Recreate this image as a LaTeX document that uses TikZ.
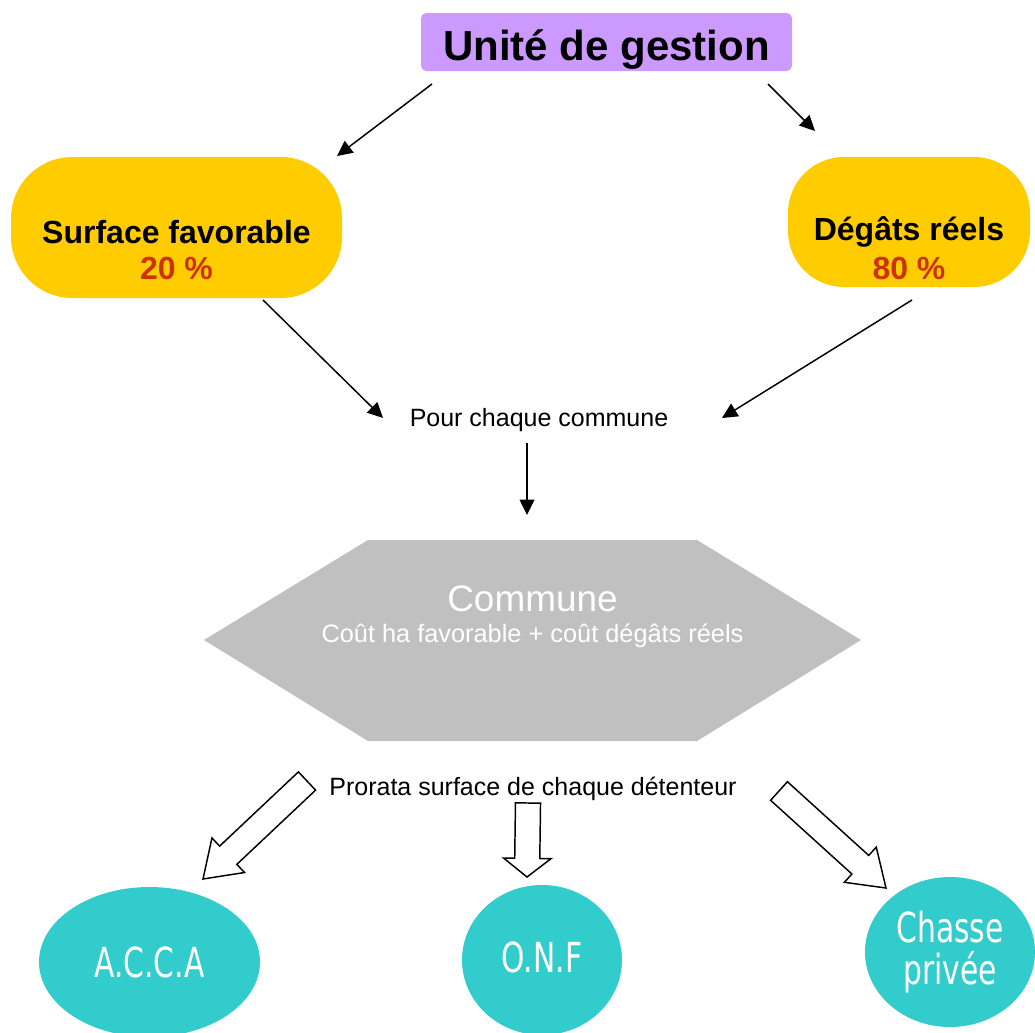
\documentclass[tikz,border=0pt]{standalone}
\usepackage{fontspec}
\setmainfont{Liberation Sans}
\newfontfamily\ovalfont[FakeStretch=0.72]{DejaVu Sans}
\usetikzlibrary{arrows.meta,calc,shapes.geometric}

\definecolor{mauve}{RGB}{204,153,255}
\definecolor{jaune}{RGB}{255,204,0}
\definecolor{rouille}{RGB}{204,51,0}
\definecolor{gris}{RGB}{192,192,192}
\definecolor{turquoise}{RGB}{51,204,204}

\tikzset{every picture/.style={line width=0.75pt}}
\tikzset{
  fleche/.style={line width=1.1pt,-{Triangle[length=11.5pt,width=11pt]}},
  creuse/.style={draw=black,fill=white,line width=1.1pt,line join=miter},
  pastille/.style={fill=jaune,inner sep=0pt},
  ovale/.style={ellipse,fill=turquoise,inner sep=0pt,text=white,align=center,
    font=\ovalfont\fontsize{31}{32}\selectfont},
}

% hollow block arrow: start, tip, head length
\newcommand{\blockarrow}[3]{%
  \path ($(#2)!#3!(#1)$) coordinate (ba-h);
  \draw[creuse] ($(#1)!9.4pt!90:(#2)$) -- ($(ba-h)!9.4pt!90:(#2)$)
    -- ($(ba-h)!17.8pt!90:(#2)$) -- (#2) -- ($(ba-h)!17.8pt!-90:(#2)$)
    -- ($(ba-h)!9.4pt!-90:(#2)$) -- ($(#1)!9.4pt!-90:(#2)$) -- cycle;
}

\begin{document}
\begin{tikzpicture}[x=0.75pt,y=0.75pt,yscale=-1,xscale=1]
\useasboundingbox (0,0) rectangle (1035,1032);

% Unite de gestion
\node[fill=mauve,rounded corners=4pt,minimum width=278.25pt,minimum height=43.5pt,
  text height=28pt,text depth=0.6pt,
  font=\fontsize{31.5}{36}\selectfont\bfseries] (ug) at (606.5,42) {Unité de gestion};

% yellow boxes
\node[pastille,rounded corners=46pt,minimum width=248.25pt,minimum height=105.75pt] (sf) at (176.5,227.5) {};
\node[align=center,font=\fontsize{24}{27}\selectfont\bfseries] (sftxt) at (176.5,250)
  {Surface favorable\\\textcolor{rouille}{20 \%}};
\node[pastille,rounded corners=42pt,minimum width=181.5pt,minimum height=97.5pt] (dr) at (909,222) {};
\node[align=center,font=\fontsize{24}{29}\selectfont\bfseries] (drtxt) at (909,248)
  {Dégâts réels\\\textcolor{rouille}{80 \%}};

\node[font=\fontsize{18.75}{22}\selectfont] (pcc) at (539,420) {Pour chaque commune};

% Commune
\fill[gris] (204,640) -- (368,540) -- (697,540) -- (861,640) -- (697,741) -- (368,741) -- cycle;
\node[text=white,align=center] (com) at (532.5,617)
  {\fontsize{27.7}{30}\selectfont Commune\\[8pt]
   \fontsize{19}{22}\selectfont Coût ha favorable + coût dégâts réels};

\node[font=\fontsize{18.75}{22}\selectfont] (pro) at (533,789) {Prorata surface de chaque détenteur};

% holders
\node[ovale,minimum width=165.75pt,minimum height=112.5pt] (acca) at (149.5,962) {A.C.C.A};
\node[ovale,minimum width=120pt,minimum height=112.5pt,text depth=4pt] (onf) at (542,960) {O.N.F};
\node[ovale,minimum width=127.5pt,minimum height=112.5pt] (chp) at (950,952) {Chasse\\privée};

% arrow ends
\coordinate (ug-l) at (432,84);
\coordinate (sf-n) at (337,156);
\coordinate (ug-r) at (768,84);
\coordinate (dr-n) at (815,131);
\coordinate (sf-s) at (263,300);
\coordinate (pcc-w) at (383,418);
\coordinate (dr-s) at (912,300);
\coordinate (pcc-e) at (722,418);
\coordinate (pcc-s) at (527,443);
\coordinate (com-n) at (527,515);

\draw[fleche] (ug-l) -- (sf-n);
\draw[fleche] (ug-r) -- (dr-n);
\draw[fleche] (sf-s) -- (pcc-w);
\draw[fleche] (dr-s) -- (pcc-e);
\draw[fleche] (pcc-s) -- (com-n);

% block arrows
\coordinate (pro-l) at (307,781);
\coordinate (acca-n) at (203,879);
\coordinate (pro-m) at (528,803);
\coordinate (onf-n) at (527,877);
\coordinate (pro-r) at (779,791);
\coordinate (chp-n) at (886,888);
\blockarrow{pro-l}{acca-n}{26pt}
\blockarrow{pro-m}{onf-n}{14pt}
\blockarrow{pro-r}{chp-n}{26pt}
\end{tikzpicture}
\end{document}
